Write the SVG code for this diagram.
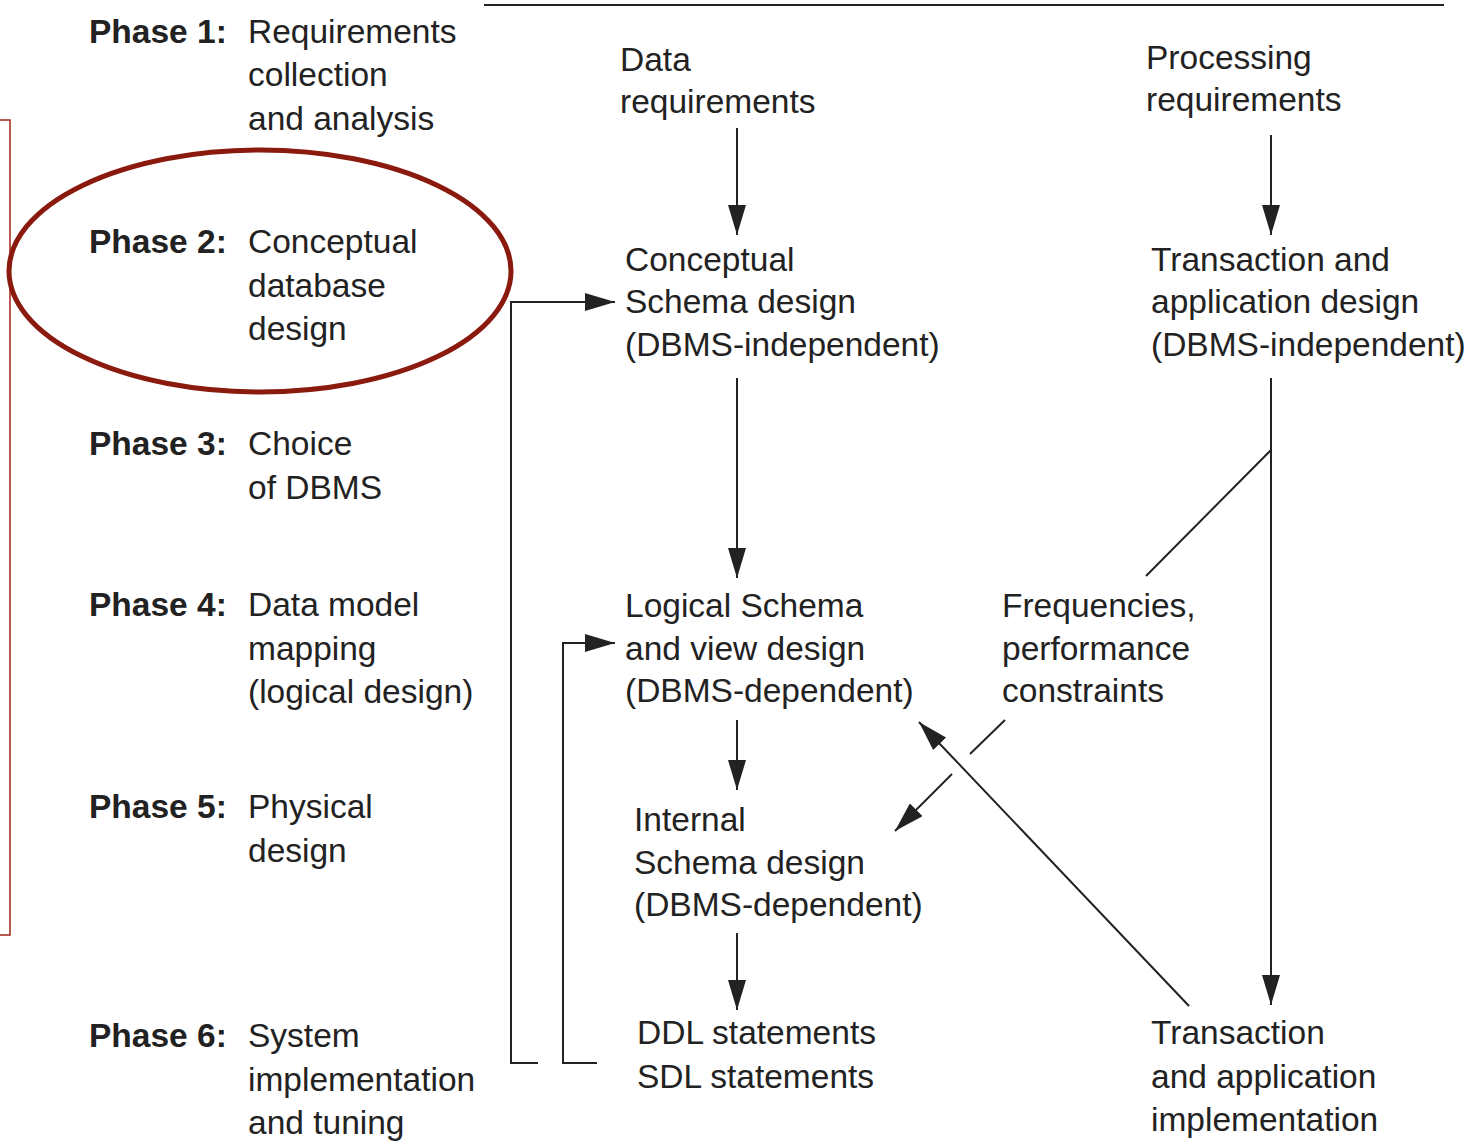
<svg xmlns="http://www.w3.org/2000/svg" width="1483" height="1143" viewBox="0 0 1483 1143">
<defs>
<style>
text{font-family:"Liberation Sans",Arial,sans-serif;font-size:33.5px;fill:#222}
.b{font-weight:bold}
.ln{stroke:#222;stroke-width:2;fill:none}
</style>
<marker id="ah" markerUnits="userSpaceOnUse" markerWidth="30" markerHeight="18" refX="30" refY="9" orient="auto">
<path d="M0,0 L30,9 L0,18 z" fill="#222"/>
</marker>
</defs>
<rect width="1483" height="1143" fill="#fff"/>
<path d="M0,120 H10 V935 H0" fill="none" stroke="#A0241A" stroke-width="1.5"/>
<ellipse cx="260" cy="271" rx="251" ry="121" fill="none" stroke="#8B1A0E" stroke-width="5"/>
<line x1="484" y1="5" x2="1444" y2="5" stroke="#222" stroke-width="2"/>
<g id="phases">
<g id="phase1"><text x="89" y="43" class="b">Phase 1:</text><text x="248" y="43">Requirements</text><text x="248" y="86">collection</text><text x="248" y="130">and analysis</text></g>
<g id="phase2"><text x="89" y="253" class="b">Phase 2:</text><text x="248" y="253">Conceptual</text><text x="248" y="297">database</text><text x="248" y="340">design</text></g>
<g id="phase3"><text x="89" y="455" class="b">Phase 3:</text><text x="248" y="455">Choice</text><text x="248" y="499">of DBMS</text></g>
<g id="phase4"><text x="89" y="616" class="b">Phase 4:</text><text x="248" y="616">Data model</text><text x="248" y="660">mapping</text><text x="248" y="703">(logical design)</text></g>
<g id="phase5"><text x="89" y="818" class="b">Phase 5:</text><text x="248" y="818">Physical</text><text x="248" y="862">design</text></g>
<g id="phase6"><text x="89" y="1047" class="b">Phase 6:</text><text x="248" y="1047">System</text><text x="248" y="1091">implementation</text><text x="248" y="1134">and tuning</text></g>
</g>
<g id="datareq"><text x="620" y="71">Data</text><text x="620" y="113">requirements</text></g>
<g id="procreq"><text x="1146" y="69">Processing</text><text x="1146" y="111">requirements</text></g>
<g id="conceptual"><text x="625" y="271">Conceptual</text><text x="625" y="313">Schema design</text><text x="625" y="356">(DBMS-independent)</text></g>
<g id="transdesign"><text x="1151" y="271">Transaction and</text><text x="1151" y="313">application design</text><text x="1151" y="356">(DBMS-independent)</text></g>
<g id="logical"><text x="625" y="617">Logical Schema</text><text x="625" y="660">and view design</text><text x="625" y="702">(DBMS-dependent)</text></g>
<g id="freq"><text x="1002" y="617">Frequencies,</text><text x="1002" y="660">performance</text><text x="1002" y="702">constraints</text></g>
<g id="internal"><text x="634" y="831">Internal</text><text x="634" y="874">Schema design</text><text x="634" y="916">(DBMS-dependent)</text></g>
<g id="ddl"><text x="637" y="1044">DDL statements</text><text x="637" y="1088">SDL statements</text></g>
<g id="transimpl"><text x="1151" y="1044">Transaction</text><text x="1151" y="1088">and application</text><text x="1151" y="1131">implementation</text></g>
<g id="connectors">
<line class="ln" x1="737" y1="128" x2="737" y2="235" marker-end="url(#ah)"/>
<line class="ln" x1="1271" y1="135" x2="1271" y2="235" marker-end="url(#ah)"/>
<line class="ln" x1="737" y1="378" x2="737" y2="578" marker-end="url(#ah)"/>
<line class="ln" x1="737" y1="720" x2="737" y2="790" marker-end="url(#ah)"/>
<line class="ln" x1="737" y1="933" x2="737" y2="1010" marker-end="url(#ah)"/>
<line class="ln" x1="1271" y1="378" x2="1271" y2="1005" marker-end="url(#ah)"/>
<line class="ln" x1="1271" y1="450" x2="1146" y2="576"/>
<line class="ln" x1="1005" y1="720" x2="970" y2="754"/>
<line class="ln" x1="952" y1="774" x2="895" y2="831" marker-end="url(#ah)"/>
<line class="ln" x1="1189" y1="1006" x2="919" y2="722" marker-end="url(#ah)"/>
<path class="ln" d="M538,1063 H511 V302 H615" marker-end="url(#ah)"/>
<path class="ln" d="M597,1063 H563 V643 H615" marker-end="url(#ah)"/>
</g>
</svg>
